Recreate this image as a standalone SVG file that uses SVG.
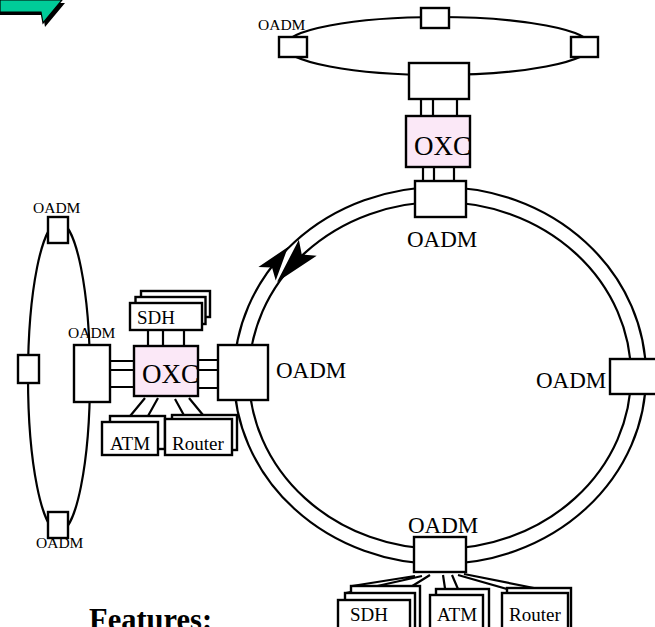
<svg xmlns="http://www.w3.org/2000/svg" width="655" height="627" viewBox="0 0 655 627">
  <style>
    .ln { fill: none; stroke: #000; stroke-width: 2.2; }
    .bx { fill: #fff; stroke: #000; stroke-width: 2.4; }
    .oxc { fill: #fbe8f7; stroke: #000; stroke-width: 2.4; }
    .t { font-family: "Liberation Serif", "Times New Roman", serif; fill: #000; }
    .lg { font-size: 23px; }
    .sm { font-size: 15.5px; }
    .md { font-size: 19px; }
    .xl { font-size: 27px; }
    .hd { font-size: 30.5px; font-weight: bold; }
  </style>
  <defs>
    <!-- stealth darts pointing toward +x, tip at origin -->
    <path id="dart" d="M0,0 L-34,-11 L-26,0 L-34,11 Z" fill="#000"/>
    <path id="dart-long" d="M0,0 L-46,-12 L-37,0 L-46,12 Z" fill="#000"/>
  </defs>

  <rect width="655" height="627" fill="#fff"/>

  <!-- corner bent arrow -->
  <g id="corner-arrow">
    <polygon points="0,3 65,3 45,27 43,15 0,15" fill="#000"/>
    <polygon points="0,0 62,0 43,23 41,12 0,12" fill="#00cc99" stroke="#000" stroke-width="1.2"/>
  </g>

  <!-- rings and links -->
  <g id="connectors">
    <!-- main double ring -->
    <ellipse class="ln" cx="440" cy="375.5" rx="206" ry="188.5"/>
    <ellipse class="ln" cx="440" cy="375.5" rx="191" ry="173.5"/>
    <!-- top metro ring -->
    <ellipse class="ln" cx="438" cy="46" rx="153" ry="29"/>
    <!-- left metro ring -->
    <ellipse class="ln" cx="59" cy="377" rx="31" ry="155"/>

    <!-- direction darts on the main ring -->
    <use href="#dart" transform="translate(288,247) rotate(-52)"/>
    <use href="#dart-long" transform="translate(277,282) rotate(132)"/>

    <!-- top OADM - OXC - ring OADM -->
    <path class="ln" d="M421,99V116M433,99V116M457,99V116"/>
    <path class="ln" d="M423,167V181M434,167V181M454,167V181"/>

    <!-- left cluster -->
    <path class="ln" d="M110,361H134M110,370H134M110,387H134"/>
    <path class="ln" d="M198,360H218M198,370H218M198,388H218"/>
    <path class="ln" d="M148,330V346M163,330V346M184,330V346"/>
    <path class="ln" d="M145,398L126,421M158,398L148,416M175,399L186,419M189,398L203,415"/>

    <!-- bottom cluster -->
    <path class="ln" d="M415,576L352,586M422,576L346,593M430,575L393,598"/>
    <path class="ln" d="M443,575L446,595M452,575L458,589"/>
    <path class="ln" d="M458,575L521,593M464,574L534,588"/>
  </g>

  <!-- top metro ring nodes -->
  <g id="top-ring-left"><rect class="bx" x="279" y="37" width="28" height="20"/>
    <text class="t sm" x="258" y="30">OADM</text></g>
  <g id="top-ring-top"><rect class="bx" x="421" y="8" width="28" height="20"/></g>
  <g id="top-ring-right"><rect class="bx" x="571" y="37" width="27" height="20"/></g>
  <g id="top-ring-bottom"><rect class="bx" x="409" y="63" width="60" height="36"/></g>

  <g id="oxc-top">
    <rect class="oxc" x="406" y="116" width="64" height="51"/>
    <text class="t xl" x="414" y="155">OXC</text>
  </g>

  <!-- main ring nodes -->
  <g id="oadm-north"><rect class="bx" x="415" y="181" width="51" height="36"/>
    <text class="t lg" x="407" y="247">OADM</text></g>
  <g id="oadm-west"><rect class="bx" x="218" y="345" width="50" height="55"/>
    <text class="t lg" x="276" y="378">OADM</text></g>
  <g id="oadm-east"><rect class="bx" x="610" y="359" width="52" height="35"/>
    <text class="t lg" x="536" y="388">OADM</text></g>
  <g id="oadm-south"><rect class="bx" x="414" y="537" width="52" height="35"/>
    <text class="t lg" x="408" y="533">OADM</text></g>

  <!-- left metro ring nodes -->
  <g id="left-ring-top"><rect class="bx" x="48" y="217" width="20" height="26"/>
    <text class="t sm" x="33" y="213">OADM</text></g>
  <g id="left-ring-west"><rect class="bx" x="18" y="355" width="21" height="28"/></g>
  <g id="left-ring-bottom"><rect class="bx" x="48" y="512" width="20" height="26"/>
    <text class="t sm" x="36" y="548">OADM</text></g>
  <g id="left-ring-east"><rect class="bx" x="74" y="345" width="36" height="57"/>
    <text class="t sm" x="68" y="338">OADM</text></g>

  <!-- left access cluster -->
  <g id="oxc-left">
    <rect class="oxc" x="134" y="346" width="64" height="50"/>
    <text class="t xl" x="142" y="383">OXC</text>
  </g>
  <g id="sdh-left">
    <rect class="bx" x="141" y="291" width="69" height="26"/>
    <rect class="bx" x="135.5" y="297" width="70" height="27"/>
    <rect class="bx" x="130" y="303" width="72" height="27"/>
    <text class="t md" x="137" y="324">SDH</text>
  </g>
  <g id="atm-left">
    <rect class="bx" x="110" y="416" width="55" height="33"/>
    <rect class="bx" x="102" y="422" width="56" height="33"/>
    <text class="t md" x="110" y="450">ATM</text>
  </g>
  <g id="router-left">
    <rect class="bx" x="172" y="415" width="65" height="35"/>
    <rect class="bx" x="165" y="419" width="67" height="36"/>
    <text class="t md" x="172" y="450">Router</text>
  </g>

  <!-- bottom access cluster -->
  <g id="sdh-bottom">
    <rect class="bx" x="351" y="586" width="69" height="50"/>
    <rect class="bx" x="345" y="593" width="70" height="50"/>
    <rect class="bx" x="338" y="600" width="72" height="50"/>
    <text class="t md" x="350" y="621">SDH</text>
  </g>
  <g id="atm-bottom">
    <rect class="bx" x="436" y="589" width="53" height="50"/>
    <rect class="bx" x="430" y="595" width="53" height="50"/>
    <text class="t md" x="437" y="621">ATM</text>
  </g>
  <g id="router-bottom">
    <rect class="bx" x="507" y="588" width="64" height="50"/>
    <rect class="bx" x="502" y="593" width="66" height="50"/>
    <text class="t md" x="509" y="621">Router</text>
  </g>

  <text class="t hd" x="89" y="630">Features:</text>
</svg>
